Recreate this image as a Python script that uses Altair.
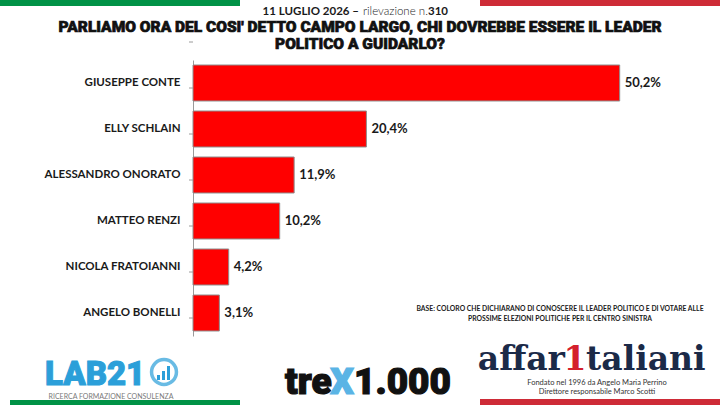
import altair as alt
import pandas as pd

# Survey results
names = [
    "GIUSEPPE CONTE",
    "ELLY SCHLAIN",
    "ALESSANDRO ONORATO",
    "MATTEO RENZI",
    "NICOLA FRATOIANNI",
    "ANGELO BONELLI",
]
values = [50.2, 20.4, 11.9, 10.2, 4.2, 3.1]

# Header and footer texts
subtitle_parts = ["11 LUGLIO 2026 \u2013", "rilevazione n.", "310"]
title_lines = [
    "PARLIAMO ORA DEL COSI' DETTO CAMPO LARGO, CHI DOVREBBE ESSERE IL LEADER",
    "POLITICO A GUIDARLO?",
]
base_lines = [
    "BASE: COLORO CHE DICHIARANO DI CONOSCERE IL LEADER POLITICO E DI VOTARE ALLE",
    "PROSSIME ELEZIONI POLITICHE PER IL CENTRO SINISTRA",
]
lab_texts = ["LAB21", "RICERCA FORMAZIONE CONSULENZA"]
trex_parts = ["tre", "X", "1.000"]
affari_parts = ["affar", "1", "taliani"]
affari_sub = [
    "Fondato nel 1996 da Angelo Maria Perrino",
    "Direttore responsabile Marco Scotti",
]

df = pd.DataFrame({"name": names, "value": values})
df["label"] = [f"{v:.1f}".replace(".", ",") + "%" for v in values]

W, H = 510, 276
GREEN = "#009246"
RED = "#CE2B37"
BLUE = "#2B9FD9"
HEAVY = "Roboto"

ysc = alt.Scale(paddingInner=0.2174, paddingOuter=0.1087)
yenc = alt.Y("name:N", sort=names, scale=ysc, title=None)

base = alt.Chart(df)

bars = base.mark_bar(color="#FF0000", stroke="#8E8E8E", strokeWidth=1).encode(
    x=alt.X("value:Q", scale=alt.Scale(domain=[0, 60]), axis=None),
    y=alt.Y(
        "name:N",
        sort=names,
        scale=ysc,
        title=None,
        axis=alt.Axis(
            ticks=False,
            domainColor="#9A9A9A",
            domainWidth=1,
            labelFont="Lato",
            labelFontWeight="bold",
            labelFontSize=11.5,
            labelColor="#1A1A1A",
            labelPadding=13,
            labelLimit=200,
        ),
    ),
)

values_text = base.mark_text(
    align="left", baseline="middle", dx=5, font="Lato", fontWeight="bold",
    fontSize=13, color="#1A1A1A",
).encode(x="value:Q", y=yenc, text="label:N")

# small separator ticks between the categories on the left of the axis
ticks_top = base.mark_rule(color="#9A9A9A", strokeWidth=1).encode(
    y=yenc, x=alt.value(-4), x2=alt.value(0), yOffset=alt.value(-23)
)
ticks_end = base.transform_filter(
    alt.datum.name == names[-1]
).mark_rule(color="#9A9A9A", strokeWidth=1).encode(
    y=yenc, x=alt.value(-4), x2=alt.value(0), yOffset=alt.value(23)
)

one = alt.Chart(pd.DataFrame({"k": [0]}))


def rect(x0, x1, y0, y1, color):
    return one.mark_rect(color=color).encode(
        x=alt.value(x0), x2=alt.value(x1), y=alt.value(y0), y2=alt.value(y1)
    )


def label(text, x, y, size, color="#1A1A1A", weight="normal", font="Lato",
          align="center", baseline="middle", fatten=0):
    extra = {"stroke": color, "strokeWidth": fatten} if fatten else {}
    return one.mark_text(
        text=text, fontSize=size, color=color, fontWeight=weight, font=font,
        align=align, baseline=baseline, **extra,
    ).encode(x=alt.value(x), y=alt.value(y))


# plot origin sits at (193, 60) on the page
OX, OY = 193, 60

deco = [
    rect(0 - OX, 240 - OX, 0 - OY, 6 - OY, GREEN),
    rect(480 - OX, 720 - OX, 0 - OY, 6 - OY, RED),
    rect(10 - OX, 240 - OX, 400 - OY, 405 - OY, GREEN),
    rect(480 - OX, 720 - OX, 399 - OY, 405 - OY, RED),
    label(subtitle_parts[0], 359 - OX, 12 - OY, 11.5, weight="bold", align="right"),
    label(subtitle_parts[1], 363 - OX, 12 - OY, 11.5, weight=300, align="left"),
    label(subtitle_parts[2], 428 - OX, 12 - OY, 11.5, weight="bold", align="left"),
    label(title_lines[0], 360 - OX, 27 - OY, 15.5, weight=900, font=HEAVY,
          color="#111111", fatten=0.7),
    label(title_lines[1], 360 - OX, 44 - OY, 15.5, weight=900, font=HEAVY,
          color="#111111", fatten=0.7),
    label(base_lines[0], 560 - OX, 309 - OY, 6.8, weight="bold"),
    label(base_lines[1], 560 - OX, 319 - OY, 6.8, weight="bold"),
    # LAB21 mark: wordmark, ring with a tiny bar icon, tagline
    label(lab_texts[0], 45 - OX, 385 - OY, 33, color=BLUE, weight=900,
          font=HEAVY, align="left", baseline="alphabetic", fatten=1),
    one.mark_point(shape="circle", size=620, stroke=BLUE, strokeWidth=3.5,
                   filled=False).encode(x=alt.value(164 - OX), y=alt.value(372 - OY)),
    rect(157 - OX, 160 - OX, 375 - OY, 380 - OY, BLUE),
    rect(162 - OX, 165 - OX, 371 - OY, 380 - OY, BLUE),
    rect(167 - OX, 170 - OX, 366 - OY, 380 - OY, BLUE),
    label(lab_texts[1], 111 - OX, 397 - OY, 7, color="#7A7A7A"),
    # trex1.000 mark
    label(trex_parts[0], 285 - OX, 394 - OY, 37, color="#111111", weight=900,
          font=HEAVY, align="left", baseline="alphabetic", fatten=1.2),
    label(trex_parts[1], 342 - OX, 394 - OY, 37, color="#5AB4E5", weight=900,
          font=HEAVY, align="center", baseline="alphabetic", fatten=1.2),
    label(trex_parts[2], 354 - OX, 394 - OY, 37, color="#111111", weight=900,
          font=HEAVY, align="left", baseline="alphabetic", fatten=1.2),
    # affaritaliani mark
    label(affari_parts[0], 565 - OX, 370 - OY, 33, color="#1B2A48", weight="bold",
          font="DejaVu Serif", align="right", baseline="alphabetic"),
    label(affari_parts[1], 575 - OX, 370 - OY, 33, color="#D4202C", weight="bold",
          font="DejaVu Serif", align="center", baseline="alphabetic"),
    label(affari_parts[2], 586 - OX, 370 - OY, 33, color="#1B2A48", weight="bold",
          font="DejaVu Serif", align="left", baseline="alphabetic"),
    label(affari_sub[0], 597 - OX, 383 - OY, 7.5, color="#333333"),
    label(affari_sub[1], 597 - OX, 392 - OY, 7.5, color="#333333"),
]

chart = alt.layer(bars, values_text, ticks_top, ticks_end, *deco).properties(
    width=W,
    height=H,
    padding={"left": OX, "top": OY, "right": 720 - OX - W, "bottom": 405 - OY - H},
    autosize=alt.AutoSizeParams(type="none"),
    background="white",
).configure_view(stroke=None)

chart.save("out.html", embed_options={"renderer": "svg", "actions": False})
